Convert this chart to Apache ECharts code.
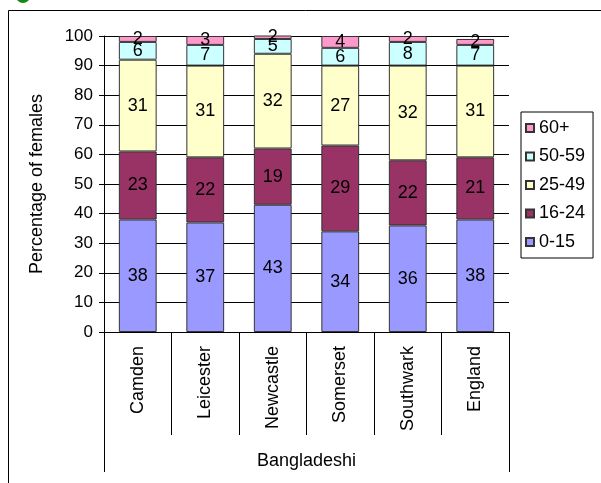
<!DOCTYPE html>
<html>
<head>
<meta charset="utf-8">
<script src="https://cdn.jsdelivr.net/npm/echarts@6/dist/echarts.min.js"></script>
<style>
  html, body { margin: 0; padding: 0; background: #fff; }
  #chart { width: 601px; height: 483px; }
</style>
</head>
<body>
<div id="chart"></div>
<script>
// Age profile of Bangladeshi females by area (percent of each area's total)
const categories = ['Camden', 'Leicester', 'Newcastle', 'Somerset', 'Southwark', 'England'];
const groupLabel = ['Bangladeshi'];
const age0to15 = [38, 37, 43, 34, 36, 38];
const age16to24 = [23, 22, 19, 29, 22, 21];
const age25to49 = [31, 31, 32, 27, 32, 31];
const age50to59 = [6, 7, 5, 6, 8, 7];
const age60plus = [2, 3, 2, 4, 2, 2];
const yTicks = { min: 0, max: 100, interval: 10 };

const FONT = 'Liberation Sans, Arial, sans-serif';

function band(name, values, color) {
  return {
    name: name,
    type: 'bar',
    stack: 'total',
    barWidth: '56%',
    data: values,
    itemStyle: { color: color, borderColor: '#333', borderWidth: 1 },
    label: {
      show: true,
      position: 'inside',
      color: '#000',
      fontSize: 18,
      fontFamily: FONT
    }
  };
}

const chart = echarts.init(document.getElementById('chart'), null, { renderer: 'canvas' });
chart.setOption({
  animation: false,
  backgroundColor: '#fff',
  grid: { left: 104, right: 92, top: 36, bottom: 151, containLabel: false },
  legend: {
    orient: 'vertical',
    left: 521,
    top: 112,
    width: 76,
    padding: [7, 8, 7, 4],
    itemGap: 10.5,
    itemWidth: 8,
    itemHeight: 8,
    icon: 'rect',
    borderColor: '#000',
    borderWidth: 1,
    textStyle: { fontSize: 18, color: '#000', fontFamily: FONT },
    data: ['60+', '50-59', '25-49', '16-24', '0-15']
  },
  xAxis: [
    {
      type: 'category',
      data: categories,
      position: 'bottom',
      axisLine: { show: true, lineStyle: { color: '#000', width: 1 } },
      axisTick: { show: true, length: 103, lineStyle: { color: '#000', width: 1 } },
      axisLabel: { rotate: 90, margin: 14, fontSize: 18, color: '#000', fontFamily: FONT }
    },
    {
      type: 'category',
      data: groupLabel,
      position: 'bottom',
      offset: 103,
      axisLine: { show: false },
      axisTick: { show: true, length: 37, lineStyle: { color: '#000', width: 1 } },
      axisLabel: { margin: 17, fontSize: 18, color: '#000', fontFamily: FONT }
    }
  ],
  yAxis: {
    type: 'value',
    min: yTicks.min,
    max: yTicks.max,
    interval: yTicks.interval,
    name: 'Percentage of females',
    nameLocation: 'middle',
    nameGap: 58,
    nameTextStyle: { fontSize: 18, color: '#000', fontFamily: FONT },
    axisLine: { show: true, lineStyle: { color: '#000', width: 1 } },
    axisTick: { show: true, length: 5, lineStyle: { color: '#000' } },
    axisLabel: { fontSize: 17, color: '#000', margin: 11, fontFamily: FONT },
    splitLine: { show: true, lineStyle: { color: '#000', width: 1 } }
  },
  graphic: [
    {
      type: 'rect',
      shape: { x: 8.5, y: 10.5, width: 620, height: 500 },
      style: { fill: 'none', stroke: '#000', lineWidth: 1 },
      silent: true
    },
    {
      type: 'circle',
      shape: { cx: 23, cy: -4, r: 7 },
      style: { fill: '#108a10' },
      silent: true
    }
  ],
  series: [
    band('0-15', age0to15, '#9999FF'),
    band('16-24', age16to24, '#993366'),
    band('25-49', age25to49, '#FFFFCC'),
    band('50-59', age50to59, '#CCFFFF'),
    band('60+', age60plus, '#FF99CC')
  ]
});
</script>
</body>
</html>
